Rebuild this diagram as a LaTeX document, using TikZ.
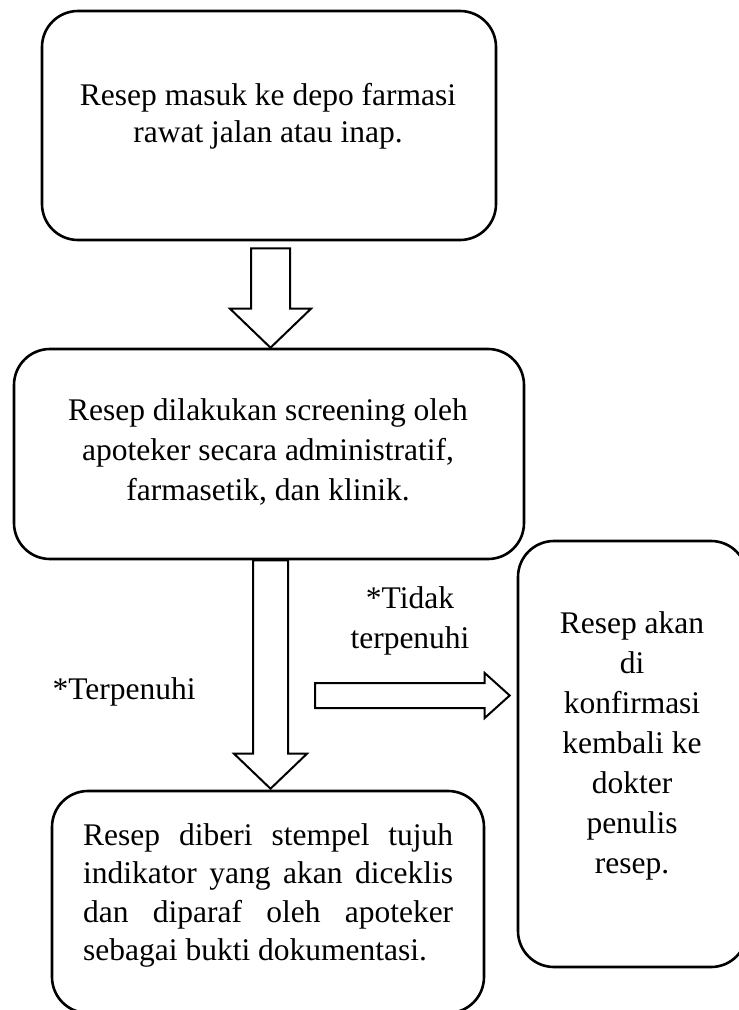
\documentclass[tikz,border=0pt]{standalone}
\usepackage{fontspec}
\setmainfont{Liberation Serif}
\usetikzlibrary{calc}

% vertical block arrow: top centre, tip, half shaft width, half head width, head length
\newcommand{\vblockarrow}[5]{%
  \draw[blockarrow] ($(#1)+(-#3,0)$) -- ($(#1)+(#3,0)$) -- ($(#2)+(#3,-#5)$)
    -- ($(#2)+(#4,-#5)$) -- (#2) -- ($(#2)+(-#4,-#5)$) -- ($(#2)+(-#3,-#5)$) -- cycle;}
% horizontal block arrow: tail centre, tip, half shaft width, half head width, head length
\newcommand{\hblockarrow}[5]{%
  \draw[blockarrow] ($(#1)+(0,-#3)$) -- ($(#2)+(-#5,-#3)$) -- ($(#2)+(-#5,-#4)$)
    -- (#2) -- ($(#2)+(-#5,#4)$) -- ($(#2)+(-#5,#3)$) -- ($(#1)+(0,#3)$) -- cycle;}

\tikzset{
  box/.style={draw, line width=2.6pt, rounded corners=36pt, inner sep=0pt},
  blockarrow/.style={draw, fill=white, line width=2pt, line join=miter},
  txt/.style={inner sep=0pt, font={\fontsize{31.5}{38.5}\selectfont}},
}

\begin{document}
\begin{tikzpicture}[x=1pt, y=-1pt]
  \clip (0,0) rectangle (739,1010);

  % boxes
  \node[box, minimum width=454pt, minimum height=229pt] (b1) at (269,125.5) {};
  \node[box, minimum width=510pt, minimum height=210pt] (b2) at (269,454) {};
  \node[box, minimum width=229pt, minimum height=426pt] (b3) at (632.5,754) {};
  \node[box, minimum width=432pt, minimum height=222pt] (b4) at (268,902) {};

  % box texts (base anchor sits on the last line)
  \node[txt, align=center, anchor=base, font={\fontsize{31.5}{37}\selectfont}] (t1) at (268,142)
    {Resep masuk ke depo farmasi\\rawat jalan atau inap.};
  \node[txt, align=center, anchor=base, font={\fontsize{31.5}{40}\selectfont}] (t2) at (268,500)
    {Resep dilakukan screening oleh\\apoteker secara administratif,\\farmasetik, dan klinik.};
  \node[txt, align=center, anchor=base, font={\fontsize{31.5}{40}\selectfont}] (t3) at (632,873)
    {Resep akan\\di\\konfirmasi\\kembali ke\\dokter\\penulis\\resep.};
  \node[txt, align=left, anchor=base west] (t4) at (83,960.5)
    {\makebox[370pt][s]{Resep diberi stempel tujuh}\\
     \makebox[370pt][s]{indikator yang akan diceklis}\\
     \makebox[370pt][s]{dan diparaf oleh apoteker}\\
     sebagai bukti dokumentasi.};

  % branch labels
  \node[txt, align=center, anchor=base, font={\fontsize{31.5}{40}\selectfont}] (l1) at (410,648)
    {*Tidak\\terpenuhi};
  \node[txt, anchor=base] (l2) at (124,699) {*Terpenuhi};

  % arrows
  \coordinate (a1top) at ($(b1.south)+(1.5,7)$);
  \coordinate (a1tip) at ($(b2.north)+(1.5,0)$);
  \vblockarrow{a1top}{a1tip}{19.5}{40.5}{39}

  \coordinate (a2top) at ($(b2.south)+(1.5,0)$);
  \coordinate (a2tip) at ($(b4.north)+(2.5,-1)$);
  \vblockarrow{a2top}{a2tip}{17.5}{36.5}{35}

  \coordinate (a3tail) at (315,695.5);
  \coordinate (a3tip) at ($(b3.west)+(-7,-58.5)$);
  \hblockarrow{a3tail}{a3tip}{12.5}{22.5}{25}
\end{tikzpicture}
\end{document}
